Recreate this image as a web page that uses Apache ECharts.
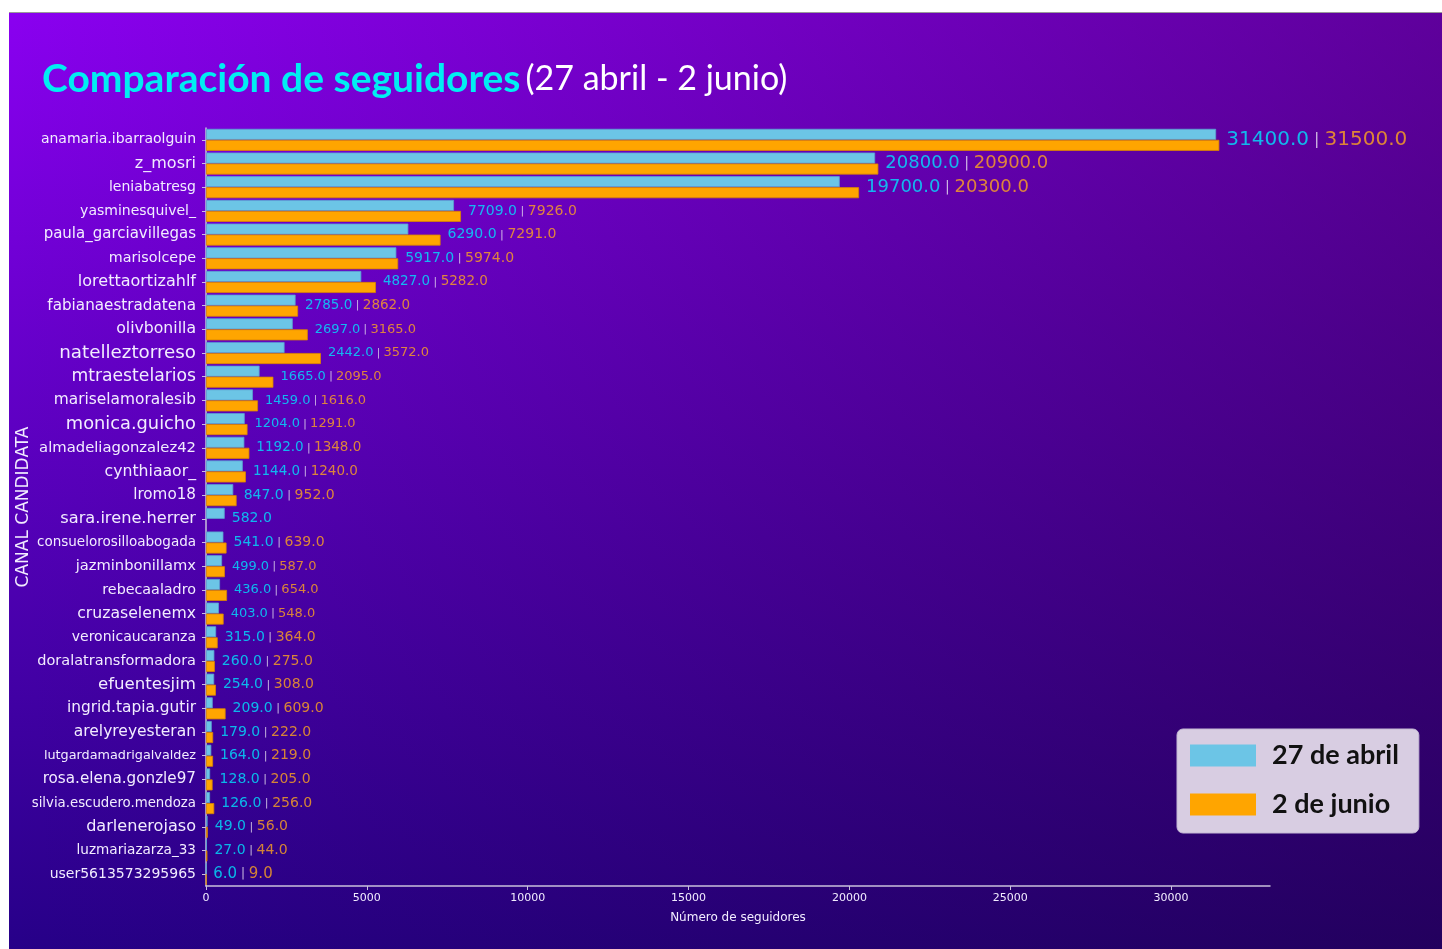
<!DOCTYPE html>
<html>
<head>
<meta charset="utf-8">
<script src="https://cdn.jsdelivr.net/npm/echarts@6/dist/echarts.min.js"></script>
<style>
  html, body { margin: 0; padding: 0; background: #fff; }
  #bg {
    position: absolute; left: 9px; top: 12px; width: 1433px; height: 937px;
    border-top: 1px solid #9a9a9a;
    background:
      linear-gradient(to right, rgba(30,0,30,0) 0%, rgba(30,0,30,0.4) 100%),
      linear-gradient(to bottom, #8a00f0 0%, #260088 100%);
  }
  #chart { position: absolute; left: 0; top: 0; width: 1442px; height: 949px; }
</style>
</head>
<body>
<div id="bg"></div>
<div id="chart"></div>
<script>
// canales (orden de arriba a abajo)
const names = ['anamaria.ibarraolguin', 'z_mosri', 'leniabatresg', 'yasminesquivel_', 'paula_garciavillegas',
  'marisolcepe', 'lorettaortizahlf', 'fabianaestradatena', 'olivbonilla', 'natelleztorreso', 'mtraestelarios',
  'mariselamoralesib', 'monica.guicho', 'almadeliagonzalez42', 'cynthiaaor_', 'lromo18', 'sara.irene.herrer',
  'consuelorosilloabogada', 'jazminbonillamx', 'rebecaaladro', 'cruzaselenemx', 'veronicaucaranza',
  'doralatransformadora', 'efuentesjim', 'ingrid.tapia.gutir', 'arelyreyesteran', 'lutgardamadrigalvaldez',
  'rosa.elena.gonzle97', 'silvia.escudero.mendoza', 'darlenerojaso', 'luzmariazarza_33', 'user5613573295965'];

const abril = [31400, 20800, 19700, 7709, 6290, 5917, 4827, 2785, 2697, 2442, 1665, 1459, 1204, 1192, 1144, 847,
  582, 541, 499, 436, 403, 315, 260, 254, 209, 179, 164, 128, 126, 49, 27, 6];

const junio = [31500, 20900, 20300, 7926, 7291, 5974, 5282, 2862, 3165, 3572, 2095, 1616, 1291, 1348, 1240, 952,
  null, 639, 587, 654, 548, 364, 275, 308, 609, 222, 219, 205, 256, 56, 44, 9];

const xTicks = [0, 5000, 10000, 15000, 20000, 25000, 30000];

// tamaños de letra (varían por fila en la imagen)
const nameSizes = [14, 16, 14, 14, 15, 14.3, 16, 15.2, 15.7, 18.3, 17.2, 15.4, 17.8, 14.8, 15.7, 15.2, 16.2, 13.5,
  14.7, 14.3, 15.7, 14, 14.5, 16.6, 15.4, 15.5, 12.8, 15.2, 13.3, 16.1, 13.6, 14];
const valSizes = [20, 18, 18, 14, 14, 14, 13.5, 13.5, 13, 13, 13, 13, 13, 13.5, 13.5, 14, 14, 14, 13, 13, 13, 14,
  14, 14, 14, 14, 14, 14, 14, 14, 14, 15];

const CYAN_BAR = '#6cc5e6';
const ORANGE_BAR = '#ffa500';
const CYAN_TXT = '#00e5ff';
const ORANGE_TXT = '#ffa51f';
const AXIS = '#c9c0dc';
const FONT = '"DejaVu Sans", sans-serif';

const nameRich = {};
nameSizes.forEach((s, i) => {
  nameRich['r' + i] = { fontSize: s, color: '#f2ecff', fontFamily: FONT };
});

const fmt = v => v.toFixed(1);

const labelData = names.map((n, i) => {
  const a = abril[i], b = junio[i];
  const mx = b == null ? a : Math.max(a, b);
  const s = valSizes[i];
  const text = b == null ? '{c|' + fmt(a) + '}' : '{c|' + fmt(a) + '}{p| | }{o|' + fmt(b) + '}';
  return {
    value: [mx, n],
    label: {
      formatter: text,
      rich: {
        c: { color: CYAN_TXT, fontSize: s, fontFamily: FONT },
        o: { color: ORANGE_TXT, fontSize: s, fontFamily: FONT },
        p: { color: '#e8e0f0', fontSize: s * 0.8, fontFamily: FONT }
      }
    }
  };
});

const chart = echarts.init(document.getElementById('chart'));
chart.setOption({
  backgroundColor: 'transparent',
  animation: false,
  title: {
    left: 37,
    top: 55,
    text: '{a|Comparación de seguidores} {b|(27 abril - 2 junio)}',
    textStyle: {
      rich: {
        a: { fontFamily: 'Lato', fontWeight: 'bold', fontSize: 39, color: '#00eef2' },
        b: { fontFamily: 'Lato', fontWeight: 'normal', fontSize: 34, color: '#ffffff' }
      }
    }
  },
  legend: {
    orient: 'vertical',
    left: 1177,
    top: 729,
    backgroundColor: '#d8cde2',
    borderColor: '#c4b8d4',
    borderWidth: 1,
    borderRadius: 6,
    padding: [13, 20, 15, 13],
    itemWidth: 66,
    itemHeight: 22,
    itemGap: 22,
    icon: 'rect',
    itemStyle: { borderWidth: 0 },
    textStyle: {
      fontFamily: 'Lato',
      fontWeight: 'bold',
      fontSize: 27,
      color: '#111',
      padding: [0, 0, 0, 11]
    },
    data: ['27 de abril', '2 de junio']
  },
  grid: { left: 206, right: 172, top: 128, bottom: 63, outerBoundsMode: 'none' },
  xAxis: {
    type: 'value',
    min: 0,
    max: 33075,
    name: 'Número de seguidores',
    nameLocation: 'middle',
    nameGap: 26,
    nameMoveOverlap: false,
    nameTextStyle: { color: '#f2ecff', fontSize: 12, fontFamily: FONT },
    axisLine: { show: true, lineStyle: { color: AXIS, width: 1.5 } },
    axisTick: { show: true, length: 4, lineStyle: { color: AXIS }, customValues: xTicks },
    axisLabel: {
      color: '#f2ecff', fontSize: 11, fontFamily: FONT, margin: 7, customValues: xTicks,
      formatter: v => String(v)
    },
    splitLine: { show: false }
  },
  yAxis: {
    type: 'category',
    inverse: true,
    data: names,
    name: 'CANAL CANDIDATA',
    nameLocation: 'middle',
    nameRotate: 90,
    nameGap: 174,
    nameMoveOverlap: false,
    nameTextStyle: { color: '#f2ecff', fontSize: 17, fontFamily: FONT },
    axisLine: { show: true, lineStyle: { color: AXIS, width: 1.5 } },
    axisTick: { show: true, alignWithLabel: true, length: 4, lineStyle: { color: AXIS } },
    axisLabel: {
      margin: 10,
      interval: 0,
      formatter: (v, i) => '{r' + i + '|' + v + '}',
      rich: nameRich
    }
  },
  series: [
    {
      name: '27 de abril',
      type: 'bar',
      data: abril,
      barWidth: 11,
      barGap: '0%',
      itemStyle: { color: CYAN_BAR, borderColor: '#5a9fd0', borderWidth: 0.8 }
    },
    {
      name: '2 de junio',
      type: 'bar',
      data: junio,
      barWidth: 11,
      itemStyle: { color: ORANGE_BAR, borderColor: '#d98400', borderWidth: 0.8 }
    },
    {
      name: 'etiquetas',
      type: 'scatter',
      data: labelData,
      symbolSize: 0,
      silent: true,
      label: { show: true, position: 'right', distance: 7, color: '#e8e0f0' }
    }
  ]
});
</script>
</body>
</html>
